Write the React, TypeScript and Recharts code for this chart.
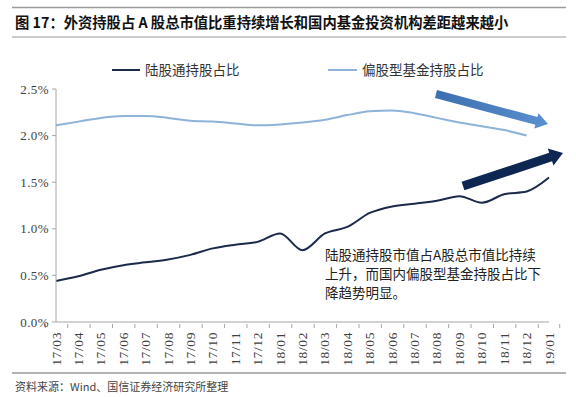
import { LineChart, Line, XAxis, YAxis } from 'recharts'

const months = [
  '17/03', '17/04', '17/05', '17/06', '17/07', '17/08', '17/09', '17/10', '17/11', '17/12',
  '18/01', '18/02', '18/03', '18/04', '18/05', '18/06', '18/07', '18/08', '18/09', '18/10',
  '18/11', '18/12', '19/01',
]

// 陆股通持股占比 (%)
const northbound = [
  0.44, 0.49, 0.56, 0.61, 0.64, 0.67, 0.72, 0.79, 0.83, 0.86,
  0.95, 0.77, 0.95, 1.02, 1.17, 1.24, 1.27, 1.30, 1.35, 1.28,
  1.37, 1.40, 1.55,
]

// 偏股型基金持股占比 (%)
const equityFunds = [
  2.11, 2.15, 2.19, 2.21, 2.21, 2.19, 2.16, 2.15, 2.13, 2.11,
  2.12, 2.14, 2.17, 2.22, 2.26, 2.27, 2.24, 2.19, 2.14, 2.10,
  2.06, 2.00, null,
]

const yTicks = [0, 0.5, 1.0, 1.5, 2.0, 2.5]

const data = months.map((m, i) => ({
  month: m,
  north: northbound[i],
  fund: equityFunds[i],
}))

const DARK = '#1b2a4a'
const LIGHT = '#8db3d9'
const AXIS = '#a6a6a6'
const CJK = '"Noto Sans CJK SC", "Noto Sans", sans-serif'
const SERIF = '"Liberation Serif", "DejaVu Serif", serif'

function MonthTick(props: any) {
  const { x, y, payload, index, width, visibleTicksCount } = props
  const bw = width && visibleTicksCount ? width / visibleTicksCount : 21.4
  const last = index === (visibleTicksCount ?? months.length) - 1
  return (
    <g>
      <line x1={x - bw / 2} x2={x - bw / 2} y1={y - 8} y2={y - 4} stroke={AXIS} />
      {last && <line x1={x + bw / 2} x2={x + bw / 2} y1={y - 8} y2={y - 4} stroke={AXIS} />}
      <text
        transform={`translate(${x + 4.5},${y}) rotate(-90)`}
        textAnchor="end"
        style={{ fontSize: 13.5, fontFamily: SERIF, letterSpacing: 0.6 }}
        fill="#404040"
      >
        {payload.value}
      </text>
    </g>
  )
}

function YTick(props: any) {
  const { x, y, payload } = props
  return (
    <text
      x={x}
      y={y + 4.5}
      textAnchor="end"
      style={{ fontSize: 13, fontFamily: SERIF, letterSpacing: 0.4 }}
      fill="#404040"
    >
      {`${payload.value.toFixed(1)}%`}
    </text>
  )
}

function arrow(x1: number, y1: number, x2: number, y2: number, shaft: number, headLen: number, headW: number) {
  const dx = x2 - x1
  const dy = y2 - y1
  const len = Math.hypot(dx, dy)
  const ux = dx / len
  const uy = dy / len
  const px = -uy
  const py = ux
  const bx = x2 - ux * headLen
  const by = y2 - uy * headLen
  const pts = [
    [x1 + px * shaft / 2, y1 + py * shaft / 2],
    [bx + px * shaft / 2, by + py * shaft / 2],
    [bx + px * headW / 2, by + py * headW / 2],
    [x2, y2],
    [bx - px * headW / 2, by - py * headW / 2],
    [bx - px * shaft / 2, by - py * shaft / 2],
    [x1 - px * shaft / 2, y1 - py * shaft / 2],
  ]
  return pts.map(p => `${p[0].toFixed(1)},${p[1].toFixed(1)}`).join(' ')
}

export default function App() {
  return (
    <div style={{ position: 'absolute', left: 0, top: 0, width: 576, height: 397, background: '#fff' }}>
      <LineChart
        width={576}
        height={397}
        data={data}
        margin={{ top: 89, right: 27, bottom: 25, left: 6 }}
      >
        <XAxis
          dataKey="month"
          interval={0}
          tickLine={false}
          tickSize={8}
          axisLine={{ stroke: AXIS }}
          tick={<MonthTick />}
          height={50}
        />
        <YAxis
          domain={[0, 2.5]}
          ticks={yTicks}
          width={50}
          tickSize={4}
          tickMargin={3}
          axisLine={{ stroke: AXIS }}
          tickLine={{ stroke: AXIS }}
          tick={<YTick />}
        />
        <Line
          type="monotone"
          dataKey="fund"
          stroke={LIGHT}
          strokeWidth={2}
          dot={false}
          connectNulls={false}
          isAnimationActive={false}
        />
        <Line
          type="monotone"
          dataKey="north"
          stroke={DARK}
          strokeWidth={2}
          dot={false}
          isAnimationActive={false}
        />
      </LineChart>

      <svg width={576} height={397} style={{ position: 'absolute', left: 0, top: 0, pointerEvents: 'none' }}>
        <defs>
          <linearGradient id="lightArrow" x1="0" y1="0" x2="1" y2="0">
            <stop offset="0%" stopColor="#3d6fb0" />
            <stop offset="100%" stopColor="#5a8fd0" />
          </linearGradient>
        </defs>
        <line x1={12} x2={566} y1={7.5} y2={7.5} stroke="#9a9a9a" strokeWidth={1.5} />
        <line x1={12} x2={566} y1={37} y2={37} stroke="#9a9a9a" strokeWidth={1} />
        <text x={15} y={28} style={{ fontSize: 14.3, fontWeight: 'bold', fontFamily: CJK }} fill="#111">
          图 17：外资持股占 A 股总市值比重持续增长和国内基金投资机构差距越来越小
        </text>

        <line x1={112} x2={140} y1={70} y2={70} stroke={DARK} strokeWidth={2} />
        <text x={145} y={75} style={{ fontSize: 13.5, fontFamily: CJK }} fill="#333">陆股通持股占比</text>
        <line x1={328} x2={357} y1={70} y2={70} stroke={LIGHT} strokeWidth={2} />
        <text x={362} y={75} style={{ fontSize: 13.5, fontFamily: CJK }} fill="#333">偏股型基金持股占比</text>

        <polygon points={arrow(436, 94, 548, 124, 8, 12, 16)} fill="url(#lightArrow)" />
        <polygon points={arrow(463, 186, 563, 153, 9, 13, 18)} fill="#0e2752" />

        <g style={{ fontSize: 13.5, fontFamily: CJK }} fill="#222">
          <text x={325} y={260}>陆股通持股市值占A股总市值比持续</text>
          <text x={325} y={279}>上升，而国内偏股型基金持股占比下</text>
          <text x={325} y={298}>降趋势明显。</text>
        </g>

        <line x1={12} x2={566} y1={373} y2={373} stroke="#9a9a9a" strokeWidth={1.5} />
        <text x={15} y={391} style={{ fontSize: 11, fontFamily: CJK }} fill="#444">
          资料来源：Wind、国信证券经济研究所整理
        </text>
      </svg>
    </div>
  )
}
